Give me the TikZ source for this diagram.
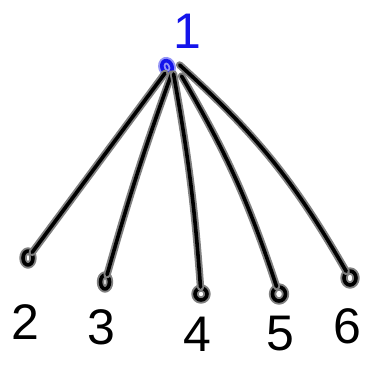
\documentclass[tikz,border=0pt]{standalone}
\usetikzlibrary{shapes.geometric}
\usepackage{fontspec}
\setmainfont{Liberation Sans}
\definecolor{halo}{gray}{0.5}
\definecolor{pen}{RGB}{20,20,235}
\tikzset{
  stroke/.style={draw=halo, double=black, double distance=3.6pt, line width=1.9pt, line cap=round, line join=round},
  leaf/.style={ellipse, stroke, inner sep=0pt, minimum width=#1},
  rootnode/.style={ellipse, draw=pen!45, double=pen, double distance=3.6pt, line width=1.9pt, fill=pen, inner sep=0pt, minimum width=10pt, minimum height=13pt, rotate=20},
  lbl/.style={font=\fontsize{50}{50}\selectfont, inner sep=0pt},
}
\begin{document}
\begin{tikzpicture}[x=1pt,y=-1pt]
\useasboundingbox (0,0) rectangle (366,365);
\node[rootnode] (r) at (167,67) {};
\node[lbl, text=pen] (l1) at (187,31) {1};
\node[leaf=10pt, minimum height=14pt] (n2) at (28,258) {};
\node[leaf=9pt, minimum height=14pt] (n3) at (105,282) {};
\node[leaf=12pt, minimum height=12pt] (n4) at (201,294) {};
\node[leaf=13pt, minimum height=14pt] (n5) at (279,294) {};
\node[leaf=12pt, minimum height=14pt] (n6) at (350,278) {};
\node[lbl] (l2) at (25,322) {2};
\node[lbl] (l3) at (101,327) {3};
\node[lbl] (l4) at (197,334) {4};
\node[lbl] (l5) at (280,334) {5};
\node[lbl] (l6) at (347,326) {6};
\draw[stroke] (r.south west) -- (n2);
\draw[stroke] ([xshift=2pt]r.south) to[bend right=2] (n3);
\draw[stroke] ([xshift=4pt]r.south) to[bend left=3] (n4);
\draw[stroke] ([xshift=12pt,yshift=-2pt]r.south) to[bend left=6] (n5);
\draw[stroke] ([xshift=7pt]r.east) to[bend left=9] (n6);
\end{tikzpicture}
\end{document}
